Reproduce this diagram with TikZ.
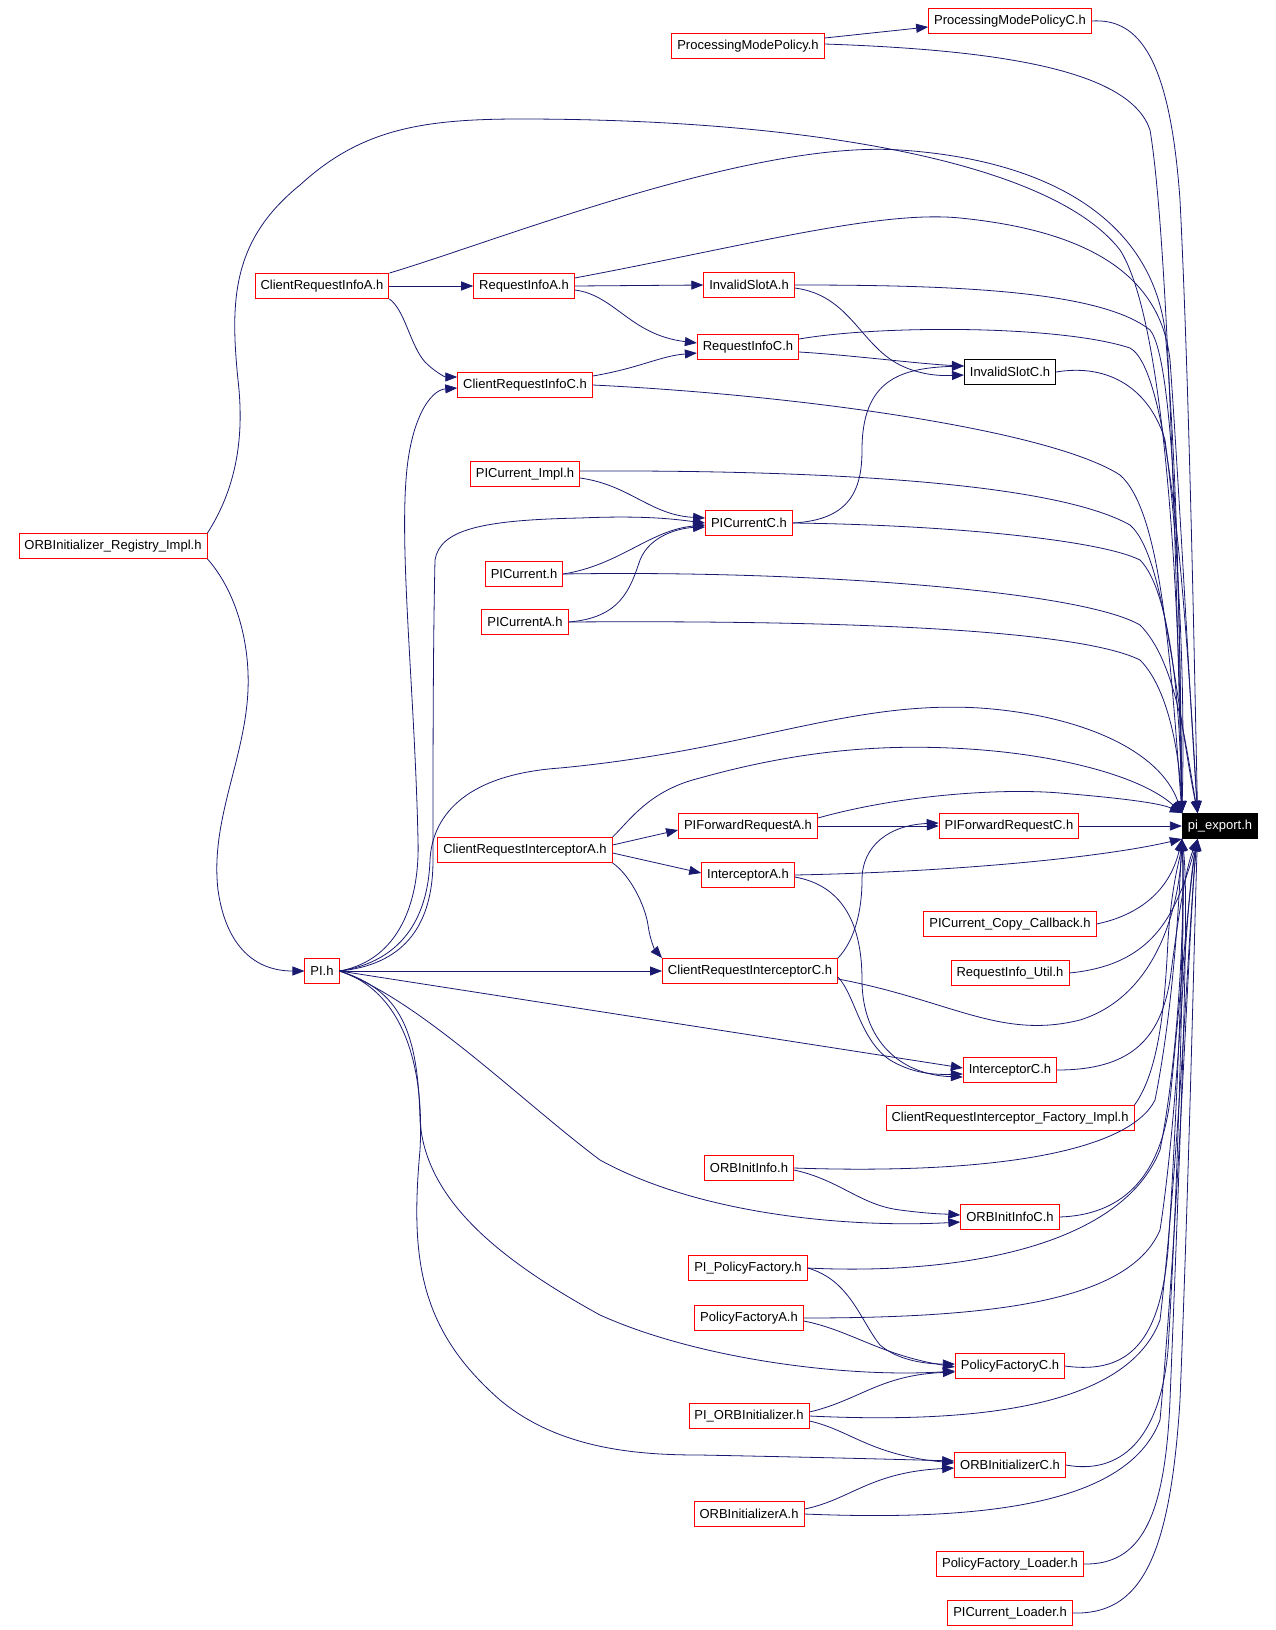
\documentclass[tikz,border=0pt]{standalone}
\usepackage{fontspec}
\setmainfont{Liberation Sans}
\usetikzlibrary{arrows.meta}
\definecolor{edgeblue}{RGB}{25,25,112}

\begin{document}
\begin{tikzpicture}[x=1pt,y=-1pt,
  file/.style={draw=red,fill=white,line width=0.9pt,inner xsep=5.5pt,inner ysep=0pt,minimum height=25pt,font=\fontsize{13}{15}\selectfont},
  dep/.style={draw=edgeblue,line width=0.8pt,-{Triangle[length=12pt,width=9pt]}}]
  \useasboundingbox (0,0) rectangle (1275,1630);

  % files, left to right
  \node[file] (pmpc) at (1010,21) {ProcessingModePolicyC.h};
  \node[file] (pmp) at (748,46) {ProcessingModePolicy.h};
  \node[file] (cria) at (322,286) {ClientRequestInfoA.h};
  \node[file] (ria) at (524,286) {RequestInfoA.h};
  \node[file] (isa) at (749,285) {InvalidSlotA.h};
  \node[file] (ric) at (748,347) {RequestInfoC.h};
  \node[file,draw=black] (isc) at (1010,372) {InvalidSlotC.h};
  \node[file] (cric) at (525,385) {ClientRequestInfoC.h};
  \node[file] (pcimpl) at (525,474) {PICurrent\_Impl.h};
  \node[file] (pcc) at (749,523) {PICurrentC.h};
  \node[file] (orbreg) at (113,546) {ORBInitializer\_Registry\_Impl.h};
  \node[file] (pc) at (524,574) {PICurrent.h};
  \node[file] (pca) at (525,622) {PICurrentA.h};
  \node[file,draw=black,fill=black,text=white] (pie) at (1220,826) {pi\_export.h};
  \node[file] (pfra) at (748,826) {PIForwardRequestA.h};
  \node[file] (pfrc) at (1009,826) {PIForwardRequestC.h};
  \node[file] (crinta) at (525,850) {ClientRequestInterceptorA.h};
  \node[file] (inta) at (748,875) {InterceptorA.h};
  \node[file] (pccb) at (1010,924) {PICurrent\_Copy\_Callback.h};
  \node[file] (pih) at (322,971) {PI.h};
  \node[file] (crintc) at (750,971) {ClientRequestInterceptorC.h};
  \node[file] (riu) at (1010,973) {RequestInfo\_Util.h};
  \node[file] (intc) at (1010,1070) {InterceptorC.h};
  \node[file] (crif) at (1010,1118) {ClientRequestInterceptor\_Factory\_Impl.h};
  \node[file] (oii) at (749,1168) {ORBInitInfo.h};
  \node[file] (oiic) at (1010,1217) {ORBInitInfoC.h};
  \node[file] (pipf) at (748,1268) {PI\_PolicyFactory.h};
  \node[file] (pfa) at (749,1318) {PolicyFactoryA.h};
  \node[file] (pfc) at (1010,1366) {PolicyFactoryC.h};
  \node[file] (piorb) at (749,1416) {PI\_ORBInitializer.h};
  \node[file] (orbic) at (1010,1465) {ORBInitializerC.h};
  \node[file] (orbia) at (749,1514) {ORBInitializerA.h};
  \node[file] (pfl) at (1010,1564) {PolicyFactory\_Loader.h};
  \node[file] (pcl) at (1010,1613) {PICurrent\_Loader.h};

  % includes between the files
  \draw[dep] ([yshift=8pt]pmp.east) -- ([yshift=-6pt]pmpc.west);
  \draw[dep] (cria.east) -- (ria.west);
  \draw[dep] (cria.south east) .. controls (405,310) and (410,345) .. (425,362) .. controls (435,372) and (445,377) .. ([yshift=8pt]cric.west);
  \draw[dep] (ria.east) -- (isa.west);
  \draw[dep] ([yshift=-4pt]ria.east) .. controls (615,295) and (630,335) .. ([yshift=4pt]ric.west);
  \draw[dep] ([yshift=9pt]cric.east) .. controls (640,368) and (660,356) .. ([yshift=-6pt]ric.west);
  \draw[dep] ([yshift=-3pt]isa.east) .. controls (850,295) and (860,345) .. (900,365) .. controls (920,375) and (940,376) .. ([yshift=-3pt]isc.west);
  \draw[dep] ([yshift=-5pt]ric.east) .. controls (850,355) and (920,364) .. ([yshift=6pt]isc.west);
  \draw[dep] (pcc.east) .. controls (850,520) and (862,490) .. (862,450) .. controls (862,380) and (900,368) .. ([yshift=6pt]isc.west);
  \draw[dep] ([yshift=-4pt]pcimpl.east) .. controls (630,485) and (650,515) .. ([yshift=5pt]pcc.west);
  \draw[dep] (pc.east) .. controls (620,565) and (650,530) .. ([yshift=-2pt]pcc.west);
  \draw[dep] (pca.east) .. controls (620,618) and (630,590) .. (640,560) .. controls (650,535) and (680,528) .. ([yshift=-4pt]pcc.west);
  \draw[dep] (orbreg.south east) .. controls (235,590) and (250,640) .. (248,690) .. controls (245,760) and (210,820) .. (218,890) .. controls (225,940) and (250,971) .. (pih.west);
  \draw[dep] (pih.east) .. controls (400,960) and (420,900) .. (418,840) .. controls (415,700) and (400,560) .. (406,480) .. controls (410,420) and (430,390) .. ([yshift=-3pt]cric.west);
  \draw[dep] (pih.east) .. controls (400,965) and (433,930) .. (433,860) .. controls (433,750) and (433,650) .. (435,560) .. controls (440,530) and (480,520) .. (580,518) .. controls (650,515) and (680,520) .. (pcc.west);
  \draw[dep] (pih.east) -- (crintc.west);
  \draw[dep] (pih.east) -- ([yshift=2pt]intc.west);
  \draw[dep] (pih.east) .. controls (420,1000) and (520,1100) .. (600,1160) .. controls (700,1215) and (850,1228) .. ([yshift=-5pt]oiic.west);
  \draw[dep] (pih.east) .. controls (400,990) and (418,1030) .. (420,1120) .. controls (425,1200) and (500,1260) .. (600,1315) .. controls (700,1360) and (850,1378) .. ([yshift=-5pt]pfc.west);
  \draw[dep] (pih.east) .. controls (400,990) and (425,1060) .. (420,1150) .. controls (410,1260) and (420,1330) .. (500,1400) .. controls (560,1450) and (640,1455) .. (700,1455) .. controls (850,1458) and (920,1460) .. ([yshift=4pt]orbic.west);
  \draw[dep] ([yshift=5pt]crinta.east) -- ([yshift=-4pt]pfra.west);
  \draw[dep] ([yshift=-3pt]crinta.east) -- ([yshift=2pt]inta.west);
  \draw[dep] (crinta.south east) .. controls (630,875) and (645,905) .. (648,925) .. controls (650,940) and (655,950) .. (crintc.north west);
  \draw[dep] (pfra.east) -- (pfrc.west);
  \draw[dep] (crintc.north east) .. controls (855,940) and (862,910) .. (862,880) .. controls (862,845) and (890,825) .. ([yshift=3pt]pfrc.west);
  \draw[dep] ([yshift=-6pt]crintc.east) .. controls (855,995) and (860,1040) .. (890,1060) .. controls (910,1072) and (930,1075) .. ([yshift=-4pt]intc.west);
  \draw[dep] ([yshift=-2pt]inta.east) .. controls (840,885) and (862,920) .. (862,980) .. controls (862,1040) and (900,1075) .. ([yshift=-7pt]intc.west);
  \draw[dep] ([yshift=-2pt]oii.east) .. controls (840,1180) and (860,1205) .. (900,1210) .. controls (930,1214) and (945,1214) .. ([yshift=2pt]oiic.west);
  \draw[dep] (pipf.east) .. controls (850,1280) and (860,1320) .. (880,1345) .. controls (900,1362) and (930,1364) .. ([yshift=2pt]pfc.west);
  \draw[dep] ([yshift=-3pt]pfa.east) .. controls (850,1330) and (880,1355) .. ([yshift=-1pt]pfc.west);
  \draw[dep] ([yshift=4pt]piorb.east) .. controls (860,1400) and (880,1375) .. ([yshift=-6pt]pfc.west);
  \draw[dep] ([yshift=-5pt]piorb.east) .. controls (850,1430) and (870,1455) .. ([yshift=2pt]orbic.west);
  \draw[dep] ([yshift=5pt]orbia.east) .. controls (850,1500) and (870,1472) .. ([yshift=-3pt]orbic.west);

  % everything reaches pi_export.h, from above
  \draw[dep] (pmpc.east) .. controls (1140,18) and (1170,60) .. (1180,200) .. controls (1190,400) and (1195,700) .. (pie.150);
  \draw[dep] ([yshift=2pt]pmp.east) .. controls (1000,50) and (1130,70) .. (1150,130) .. controls (1170,250) and (1178,650) .. (pie.north west);
  \draw[dep] (orbreg.north east) .. controls (235,490) and (245,440) .. (238,380) .. controls (230,300) and (232,240) .. (300,185) .. controls (360,130) and (420,119) .. (520,119) .. controls (800,119) and (1050,160) .. (1120,250) .. controls (1165,320) and (1180,600) .. (pie.north west);
  \draw[dep] (cria.north east) .. controls (500,240) and (750,140) .. (900,150) .. controls (1050,160) and (1150,220) .. (1165,330) .. controls (1180,500) and (1180,700) .. (pie.north west);
  \draw[dep] ([yshift=8pt]ria.east) .. controls (750,245) and (880,210) .. (960,218) .. controls (1080,230) and (1160,270) .. (1170,360) .. controls (1180,500) and (1190,700) .. (pie.150);
  \draw[dep] (isa.east) .. controls (950,285) and (1100,290) .. (1150,330) .. controls (1175,360) and (1180,600) .. (pie.north west);
  \draw[dep] ([yshift=8pt]ric.east) .. controls (880,325) and (1060,325) .. (1130,348) .. controls (1170,370) and (1185,600) .. (pie.150);
  \draw[dep] (isc.east) .. controls (1110,363) and (1150,390) .. (1165,440) .. controls (1180,550) and (1185,700) .. (pie.north west);
  \draw[dep] (cric.east) .. controls (800,395) and (1050,430) .. (1120,475) .. controls (1160,510) and (1170,650) .. (pie.north west);
  \draw[dep] ([yshift=3pt]pcimpl.east) .. controls (800,470) and (1050,480) .. (1130,525) .. controls (1165,555) and (1175,700) .. (pie.150);
  \draw[dep] (pcc.east) .. controls (950,525) and (1100,540) .. (1140,560) .. controls (1170,590) and (1180,700) .. (pie.north west);
  \draw[dep] (pc.east) .. controls (800,570) and (1080,590) .. (1140,625) .. controls (1175,660) and (1185,740) .. (pie.150);
  \draw[dep] (pca.east) .. controls (850,620) and (1080,630) .. (1140,660) .. controls (1170,690) and (1180,760) .. (pie.north west);
  \draw[dep] (pih.east) .. controls (400,962) and (428,920) .. (430,860) .. controls (432,820) and (460,775) .. (560,768) .. controls (750,750) and (850,700) .. (980,708) .. controls (1080,715) and (1160,750) .. (pie.north west);
  \draw[dep] (crinta.north east) .. controls (630,820) and (650,790) .. (700,778) .. controls (800,750) and (880,745) .. (950,748) .. controls (1050,752) and (1140,775) .. (pie.north west);
  \draw[dep] ([yshift=8pt]pfra.east) .. controls (900,795) and (1000,788) .. (1060,793) .. controls (1120,798) and (1160,803) .. (pie.north west);
  \draw[dep] (pfrc.east) -- (pie.west);

  % and from below
  \draw[dep] (inta.east) .. controls (950,872) and (1100,858) .. (pie.south west);
  \draw[dep] (pccb.east) .. controls (1140,915) and (1170,890) .. (pie.south west);
  \draw[dep] (riu.east) .. controls (1150,965) and (1175,920) .. (pie.210);
  \draw[dep] ([yshift=-8pt]crintc.east) .. controls (950,1000) and (1000,1040) .. (1080,1020) .. controls (1160,995) and (1180,900) .. (pie.south west);
  \draw[dep] (intc.east) .. controls (1130,1070) and (1160,1040) .. (1170,980) .. controls (1178,920) and (1185,870) .. (pie.210);
  \draw[dep] (crif.north east) .. controls (1160,1070) and (1165,1000) .. (1168,940) .. controls (1172,880) and (1180,860) .. (pie.south west);
  \draw[dep] (oii.east) .. controls (1000,1175) and (1130,1150) .. (1155,1100) .. controls (1175,1000) and (1180,880) .. (pie.south west);
  \draw[dep] (oiic.east) .. controls (1120,1215) and (1160,1180) .. (1170,1100) .. controls (1180,1000) and (1190,880) .. (pie.210);
  \draw[dep] (pipf.east) .. controls (950,1275) and (1120,1250) .. (1160,1150) .. controls (1180,1050) and (1185,900) .. (pie.south west);
  \draw[dep] (pfa.east) .. controls (1000,1318) and (1130,1300) .. (1160,1230) .. controls (1180,1100) and (1185,900) .. (pie.210);
  \draw[dep] (pfc.east) .. controls (1130,1375) and (1160,1340) .. (1168,1250) .. controls (1178,1100) and (1185,900) .. (pie.south west);
  \draw[dep] (piorb.east) .. controls (1000,1425) and (1130,1400) .. (1160,1320) .. controls (1180,1150) and (1190,900) .. (pie.210);
  \draw[dep] (orbic.east) .. controls (1120,1475) and (1160,1440) .. (1168,1350) .. controls (1180,1150) and (1185,900) .. (pie.south west);
  \draw[dep] (orbia.east) .. controls (1000,1522) and (1130,1500) .. (1160,1420) .. controls (1180,1200) and (1190,900) .. (pie.210);
  \draw[dep] (pfl.east) .. controls (1140,1565) and (1165,1520) .. (1170,1400) .. controls (1180,1150) and (1190,900) .. (pie.south west);
  \draw[dep] (pcl.east) .. controls (1140,1615) and (1170,1560) .. (1180,1400) .. controls (1190,1150) and (1195,900) .. (pie.210);
\end{tikzpicture}
\end{document}
